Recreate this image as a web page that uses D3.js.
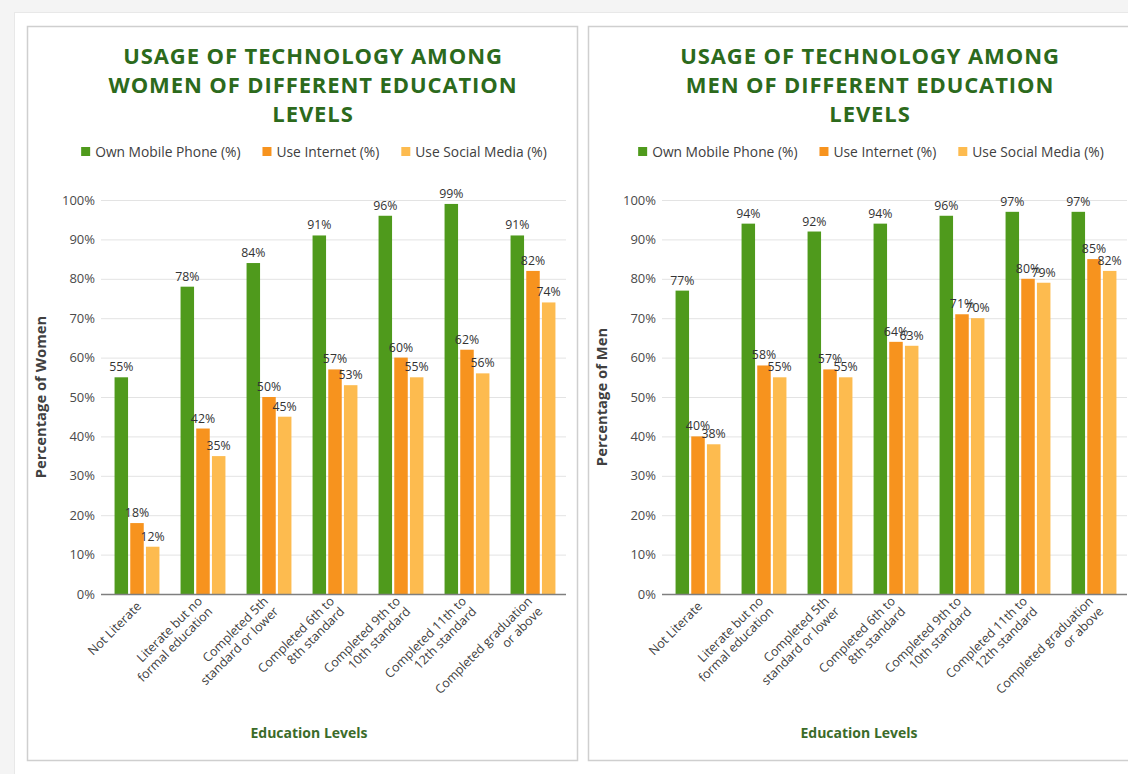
<!DOCTYPE html>
<html>
<head>
<meta charset="utf-8">
<script src="https://cdn.jsdelivr.net/npm/d3@7"></script>
<style>
  html, body { margin: 0; padding: 0; background: #f4f4f4; }
  svg { display: block; font-family: "Open Sans", Lato, sans-serif; }
</style>
</head>
<body>
<svg id="chart" width="1128" height="774"></svg>
<script>
// Education levels (category axis), split into display lines
const categories = [
  "Not Literate",
  "Literate but no\nformal education",
  "Completed 5th\nstandard or lower",
  "Completed 6th to\n8th standard",
  "Completed 9th to\n10th standard",
  "Completed 11th to\n12th standard",
  "Completed graduation\nor above"
];
const seriesNames = ["Own Mobile Phone (%)", "Use Internet (%)", "Use Social Media (%)"];
const seriesColors = ["#4f9a1c", "#f7931e", "#fdbb4f"];

// Women (%)
const womenPhone    = [55, 78, 84, 91, 96, 99, 91];
const womenInternet = [18, 42, 50, 57, 60, 62, 82];
const womenSocial   = [12, 35, 45, 53, 55, 56, 74];

// Men (%)
const menPhone    = [77, 94, 92, 94, 96, 97, 97];
const menInternet = [40, 58, 57, 64, 71, 80, 85];
const menSocial   = [38, 55, 55, 63, 70, 79, 82];

const yTicks = [0, 10, 20, 30, 40, 50, 60, 70, 80, 90, 100];

const panels = [
  {
    title: ["USAGE OF TECHNOLOGY AMONG", "WOMEN OF DIFFERENT EDUCATION", "LEVELS"],
    yTitle: "Percentage of Women",
    series: [womenPhone, womenInternet, womenSocial],
    dx: 0, titleX: 313, xTitleX: 309
  },
  {
    title: ["USAGE OF TECHNOLOGY AMONG", "MEN OF DIFFERENT EDUCATION", "LEVELS"],
    yTitle: "Percentage of Men",
    series: [menPhone, menInternet, menSocial],
    dx: 561, titleX: 309, xTitleX: 298
  }
];

const svg = d3.select("#chart");

// page backdrop
svg.append("rect").attr("x", 14.5).attr("y", 12.5).attr("width", 1130).attr("height", 770)
  .attr("fill", "#ffffff").attr("stroke", "#e8e8e8");

const plot = { left: 101, right: 566, top: 200, bottom: 594 };

panels.forEach(p => {
  const g = svg.append("g").attr("transform", `translate(${p.dx},0)`);

  g.append("rect").attr("x", 27.5).attr("y", 26.5).attr("width", 550).attr("height", 734)
    .attr("fill", "#ffffff").attr("stroke", "#cfcfcf").attr("stroke-width", 1.5);

  // title
  g.append("text")
    .attr("x", p.titleX).attr("y", 64)
    .attr("text-anchor", "middle")
    .attr("fill", "#2c6a1c")
    .attr("font-size", 22).attr("font-weight", 700)
    .attr("letter-spacing", 0.9)
    .selectAll("tspan").data(p.title).join("tspan")
    .attr("x", p.titleX).attr("dy", (d, i) => i === 0 ? 0 : 29)
    .text(d => d);

  // legend
  const leg = g.append("g");
  const items = leg.selectAll("g").data(seriesNames).join("g");
  items.append("rect").attr("width", 9).attr("height", 9).attr("y", -5)
    .attr("fill", (d, i) => seriesColors[i]);
  items.append("text").attr("x", 14).attr("y", 0).attr("dy", "0.35em")
    .attr("font-size", 13.8).attr("fill", "#404040").text(d => d);
  let cursor = 0;
  const gap = 22;
  items.each(function () {
    const w = 14 + d3.select(this).select("text").node().getComputedTextLength();
    d3.select(this).attr("transform", `translate(${cursor},0)`);
    cursor += w + gap;
  });
  const legW = cursor - gap;
  leg.attr("transform", `translate(${p.titleX + 1 - legW / 2},152)`);

  // scales
  const x0 = d3.scaleBand().domain(categories).range([plot.left + 3, plot.right])
    .paddingInner(0.32).paddingOuter(0.16);
  const x1 = d3.scaleBand().domain(d3.range(seriesNames.length)).range([0, x0.bandwidth()])
    .paddingInner(0.14);
  const y = d3.scaleLinear().domain([0, 100]).range([plot.bottom, plot.top]);

  // gridlines
  g.append("g").selectAll("line").data(yTicks.filter(t => t > 0)).join("line")
    .attr("x1", plot.left).attr("x2", plot.right)
    .attr("y1", d => y(d) + 0.5).attr("y2", d => y(d) + 0.5)
    .attr("stroke", "#e3e3e3").attr("stroke-width", 1);

  // y axis labels
  const yAxis = d3.axisLeft(y).tickValues(yTicks).tickSize(0).tickPadding(6)
    .tickFormat(d => d + "%");
  g.append("g").attr("transform", `translate(${plot.left},0)`).call(yAxis)
    .call(a => a.select(".domain").remove())
    .selectAll("text").attr("font-size", 13).attr("fill", "#4a4a4a")
    .attr("font-family", "'Open Sans', sans-serif");

  // bars
  const groups = g.append("g").selectAll("g").data(categories).join("g")
    .attr("transform", d => `translate(${x0(d)},0)`);
  groups.selectAll("rect")
    .data((c, ci) => p.series.map((s, si) => ({ si, v: s[ci] })))
    .join("rect")
    .attr("x", d => x1(d.si)).attr("width", x1.bandwidth())
    .attr("y", d => y(d.v)).attr("height", d => y(0) - y(d.v))
    .attr("fill", d => seriesColors[d.si]);
  groups.selectAll("text.val")
    .data((c, ci) => p.series.map((s, si) => ({ si, v: s[ci] })))
    .join("text").attr("class", "val")
    .attr("x", d => x1(d.si) + x1.bandwidth() / 2)
    .attr("y", d => y(d.v) - 6)
    .attr("text-anchor", "middle")
    .attr("font-size", 12.3).attr("fill", "#333333")
    .text(d => d.v + "%");

  // x axis line
  g.append("line").attr("x1", plot.left).attr("x2", plot.right)
    .attr("y1", y(0) + 0.5).attr("y2", y(0) + 0.5)
    .attr("stroke", "#7f7f7f").attr("stroke-width", 1.5);

  // x axis labels, rotated
  const xl = g.append("g").selectAll("text").data(categories).join("text")
    .attr("transform", d => `translate(${x0(d) + x0.bandwidth() / 2 + 2},${plot.bottom + 10}) rotate(-45)`)
    .attr("text-anchor", "end")
    .attr("font-size", 12.5).attr("fill", "#404040");
  xl.each(function (d) {
    const lines = d.split("\n");
    const t = d3.select(this);
    lines.forEach((ln, i) => {
      t.append("tspan").attr("x", 0)
        .attr("y", (i - (lines.length - 1) / 2) * 14.5)
        .attr("dy", "0.35em")
        .text(ln);
    });
  });

  // axis titles
  g.append("text")
    .attr("transform", `translate(46,${(plot.top + plot.bottom) / 2}) rotate(-90)`)
    .attr("text-anchor", "middle").attr("font-size", 14.8).attr("font-weight", 700)
    .attr("fill", "#404040").text(p.yTitle);
  g.append("text").attr("x", p.xTitleX).attr("y", 738)
    .attr("text-anchor", "middle").attr("font-size", 14).attr("font-weight", 700)
    .attr("fill", "#3b6b2a").text("Education Levels");
});
</script>
</body>
</html>
